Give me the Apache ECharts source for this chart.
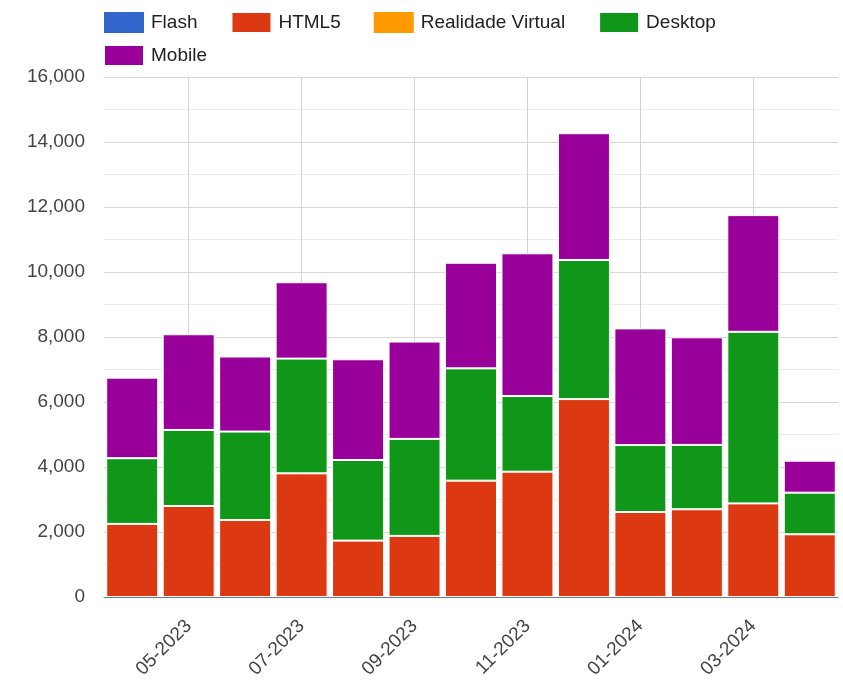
<!DOCTYPE html>
<html>
<head>
<meta charset="utf-8">
<script src="https://cdn.jsdelivr.net/npm/echarts@6/dist/echarts.min.js"></script>
<style>
html,body{margin:0;padding:0;background:#fff;}
#chart{width:843px;height:680px;}
</style>
</head>
<body>
<div id="chart"></div>
<script>
const months = ['04-2023','05-2023','06-2023','07-2023','08-2023','09-2023','10-2023','11-2023','12-2023','01-2024','02-2024','03-2024','04-2024'];
const tickLabels = ['05-2023','07-2023','09-2023','11-2023','01-2024','03-2024'];
const seriesNames = ['Flash','HTML5','Realidade Virtual','Desktop','Mobile'];
const flash   = [0,0,0,0,0,0,0,0,0,0,0,0,0];
const html5   = [2250,2800,2370,3805,1735,1880,3580,3855,6090,2615,2700,2880,1930];
const realVR  = [0,0,0,0,0,0,0,0,0,0,0,0,0];
const desktop = [2020,2340,2720,3530,2480,2985,3455,2330,4280,2060,1980,5280,1280];
const mobile  = [2480,2945,2310,2350,3100,2995,3250,4390,3900,3590,3310,3590,985];
const yTicks = [0,2000,4000,6000,8000,10000,12000,14000,16000];
const colors = ['#3366cc','#dc3912','#ff9900','#109618','#990099'];

const FONT = '"Liberation Sans", Arial, sans-serif';
const chart = echarts.init(document.getElementById('chart'), null, {renderer:'canvas'});
const dataSets = [flash, html5, realVR, desktop, mobile];

const series = dataSets.map((d, i) => {
  const s = {
    name: seriesNames[i],
    type: 'bar',
    stack: 'total',
    data: d,
    barWidth: 52,
    itemStyle: {color: colors[i], borderColor: '#fff', borderWidth: (i === 0 || i === 2) ? 0 : 1},
    emphasis: {disabled: true}
  };
  if (i === 0) {
    s.markLine = {
      z: 1,
      silent: true,
      symbol: ['none','none'],
      label: {show: false},
      lineStyle: {color: '#d4d4d4', width: 1, type: 'solid'},
      data: tickLabels.map(t => ({xAxis: t}))
    };
  }
  return s;
});

const legendCommon = {
  padding: 0,
  itemGap: 33, itemWidth: 40, itemHeight: 21,
  icon: 'rect',
  orient: 'horizontal',
  formatter: n => '{t|' + n + '}',
  textStyle: {
    fontSize: 19, color: '#222', fontFamily: FONT,
    rich: {t: {fontSize: 19, color: '#222', fontFamily: FONT, padding: [0, 0, 0, 2]}}
  }
};

chart.setOption({
  animation: false,
  color: colors,
  textStyle: {fontFamily: FONT},
  legend: [
    Object.assign({left: 104, top: 11, data: seriesNames.slice(0, 4)}, legendCommon),
    Object.assign({left: 103, top: 44, data: seriesNames.slice(4)}, legendCommon)
  ],
  grid: {left: 104, right: 5, top: 77, bottom: 83, outerBoundsMode: 'none', containLabel: false},
  xAxis: {
    type: 'category',
    data: months,
    boundaryGap: true,
    axisLine: {show: true, lineStyle: {color: '#777', width: 1}},
    axisTick: {show: false},
    splitLine: {show: false},
    axisLabel: {
      interval: (i, v) => tickLabels.includes(v),
      rotate: 45,
      margin: 26,
      fontSize: 19,
      color: '#444',
      fontFamily: FONT
    }
  },
  yAxis: {
    type: 'value',
    min: yTicks[0], max: yTicks[yTicks.length-1], interval: 2000,
    axisLine: {show: false},
    axisTick: {show: false},
    axisLabel: {
      fontSize: 19, color: '#444', margin: 19, fontFamily: FONT,
      formatter: v => v.toLocaleString('en-US')
    },
    splitLine: {show: true, lineStyle: {color: '#d8d8d8', width: 1}},
    minorTick: {show: false, splitNumber: 2},
    minorSplitLine: {show: true, lineStyle: {color: '#ececec', width: 1}}
  },
  series: series
});
</script>
</body>
</html>
